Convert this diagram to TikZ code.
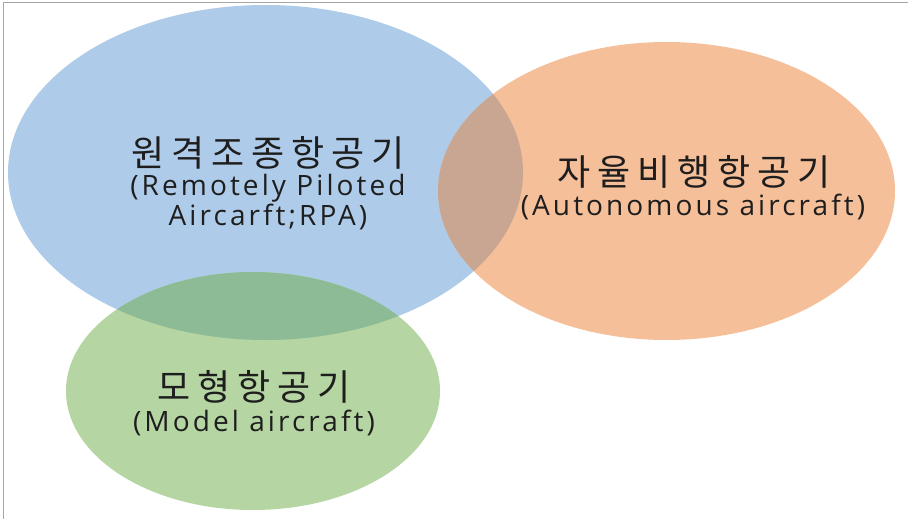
\documentclass[tikz,border=0pt]{standalone}
\usepackage{fontspec}
\setmainfont[LetterSpace=11]{Open Sans}
\newfontfamily\korfont[LetterSpace=19]{Noto Sans CJK KR}
\definecolor{cblue}{HTML}{AECCE9}
\definecolor{corange}{HTML}{F5BF99}
\definecolor{cgreen}{HTML}{B5D5A2}
\definecolor{cbo}{HTML}{C8A692}
\definecolor{cbg}{HTML}{8DBB96}
\definecolor{cborder}{HTML}{A6A6A6}
\definecolor{ctext}{HTML}{1E1E1E}
\tikzset{
  kor/.style={font=\korfont\fontsize{36}{40}\selectfont, text=ctext, inner sep=0pt},
  eng/.style={font=\fontsize{28}{30}\selectfont, text=ctext, inner sep=0pt, align=center},
}
\begin{document}
\begin{tikzpicture}[x=1pt,y=-1pt]
\useasboundingbox (0,0) rectangle (908,519);
\fill[white] (0,0) rectangle (908,519);
% ellipses
\fill[cblue] (265.5,172.5) ellipse [x radius=257.5, y radius=167.5];
\fill[corange] (666.5,191) ellipse [x radius=228.5, y radius=149];
\fill[cgreen] (253,391) ellipse [x radius=187, y radius=119];
% overlaps
\begin{scope}
  \clip (265.5,172.5) ellipse [x radius=257.5, y radius=167.5];
  \fill[cbo] (666.5,191) ellipse [x radius=228.5, y radius=149];
  \fill[cbg] (253,391) ellipse [x radius=187, y radius=119];
\end{scope}
% border
\draw[cborder, line width=1.5pt] (3.5,519) -- (3.5,2.5) -- (908,2.5);
% texts
\node[kor] (rpak) at (268,153) {원격조종항공기};
\node[eng] (rpae) at (268,202) {(Remotely Piloted\\Aircarft;RPA)};
\node[kor] (autk) at (694,172) {자율비행항공기};
\node[eng] (aute) at (693,207) {(Autonomous aircraft)};
\node[kor] (modk) at (254,387) {모형항공기};
\node[eng] (mode) at (254,423) {(Model aircraft)};
\end{tikzpicture}
\end{document}
